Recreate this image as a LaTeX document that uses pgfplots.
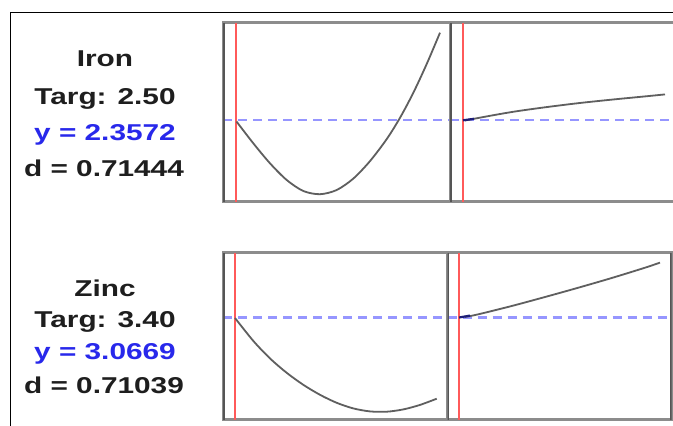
\documentclass[border=0pt]{standalone}
\usepackage{pgfplots}
\pgfplotsset{compat=1.18}
\usepackage{fontspec}
\setmainfont{Liberation Sans}
\definecolor{curvegray}{RGB}{95,95,95}
\definecolor{framegray}{RGB}{140,140,140}
\definecolor{framedark}{RGB}{85,85,85}
\definecolor{reflblue}{RGB}{150,150,255}
\definecolor{redline}{RGB}{255,90,90}
\definecolor{txtblue}{RGB}{40,40,235}
\definecolor{txtdark}{RGB}{30,30,30}
\definecolor{navymark}{RGB}{30,30,120}
\pgfplotsset{
  panel/.style={
    scale only axis, anchor=north west,
    xtick=\empty, ytick=\empty, y dir=reverse,
    axis line style={draw=framegray, line width=3bp},
    clip=true,
  },
  crv/.style={draw=curvegray, line width=1.8bp, smooth, mark=none},
  ref/.style={draw=reflblue, line width=2.8bp, dash pattern=on 9bp off 6bp, mark=none},
  red/.style={draw=redline, line width=2bp, mark=none},
  cur/.style={draw=navymark, line width=2.2bp, mark=none},
}
\begin{document}
\begin{tikzpicture}
\useasboundingbox[fill=white] (0,0) rectangle (673bp,-426bp);
% outer frame
\draw[black, line width=1.6bp] (10.5bp,-426bp) -- (10.5bp,-12.5bp) -- (673bp,-12.5bp);
% ---------- Iron, left
\begin{axis}[panel, at={(223bp,-22.5bp)}, width=227bp, height=179bp,
  xmin=223, xmax=450, ymin=22.5, ymax=201.5]
\addplot[ref] coordinates {(223,120) (450,120)};
\addplot[red] coordinates {(236,22.5) (236,201.5)};
\addplot[crv] coordinates {(236.5,121.5) (253.3,143.3) (270,163.3) (286.7,180) (303.3,191) (320,194.2) (336.7,190) (353.3,178.6) (370,161.1) (386.7,139.1) (400,117.8) (413.3,92.8) (426.7,64) (440,32.7)};
\draw[framedark, line width=4bp] (rel axis cs:0,0) -- (rel axis cs:0,1);
\draw[framedark, line width=3bp] (rel axis cs:1,0) -- (rel axis cs:1,1);
\end{axis}
% ---------- Iron, right
\begin{axis}[panel, at={(450bp,-22.5bp)}, width=250bp, height=179bp,
  xmin=450, xmax=700, ymin=22.5, ymax=201.5]
\addplot[ref] coordinates {(450,120) (700,120)};
\addplot[red] coordinates {(463,22.5) (463,201.5)};
\addplot[crv] coordinates {(465,120.5) (490,115.8) (515,111.5) (545,107.3) (578,103.2) (612,99.6) (645,96.4) (665,94.4)};
\addplot[cur] coordinates {(463,120.3) (474,118.8)};
\draw[framedark, line width=3bp] (rel axis cs:0,0) -- (rel axis cs:0,1);
\end{axis}
% ---------- Zinc, left
\begin{axis}[panel, at={(223bp,-252.5bp)}, width=224.5bp, height=167bp,
  xmin=223, xmax=447.5, ymin=252.5, ymax=419.5]
\addplot[ref] coordinates {(223,317.5) (447.5,317.5)};
\addplot[red] coordinates {(234.5,252.5) (234.5,419.5)};
\addplot[crv] coordinates {(235,318) (253.3,340.9) (270,358.4) (286.7,372.8) (303.3,384.8) (320,394.8) (336.7,402.8) (353.3,408.4) (370,411.4) (386.7,411.7) (403.3,409.4) (420,404.9) (436.7,398.7)};
\draw[framedark, line width=4bp] (rel axis cs:0,0) -- (rel axis cs:0,1);
\draw[framedark, line width=3bp] (rel axis cs:1,0) -- (rel axis cs:1,1);
\end{axis}
% ---------- Zinc, right
\begin{axis}[panel, at={(447.5bp,-252.5bp)}, width=224bp, height=167bp,
  xmin=447.5, xmax=671.5, ymin=252.5, ymax=419.5]
\addplot[ref] coordinates {(447.5,317.5) (671.5,317.5)};
\addplot[red] coordinates {(459,252.5) (459,419.5)};
\addplot[crv] coordinates {(465,317) (478.3,314.3) (511.7,306) (545,297) (578.3,287.7) (611.7,278) (645,267.7) (660,262.6)};
\addplot[cur] coordinates {(459,317.5) (470,315.6)};
\draw[framedark, line width=3bp] (rel axis cs:0,0) -- (rel axis cs:0,1);
\draw[framedark, line width=3bp] (rel axis cs:1,0) -- (rel axis cs:1,1);
\end{axis}
% ---------- labels
\tikzset{lab/.style={anchor=base, xscale=1.3, inner sep=0pt,
  font=\fontsize{23}{23}\selectfont\bfseries}}
\node[lab, txtdark] at (105bp,-66.7bp) {Iron};
\node[lab, txtdark] at (105bp,-104bp) {Targ: 2.50};
\node[lab, txtblue] at (105bp,-140bp) {y = 2.3572};
\node[lab, txtdark] at (104bp,-176.7bp) {d = 0.71444};
\node[lab, txtdark] at (105bp,-296bp) {Zinc};
\node[lab, txtdark] at (105bp,-327.7bp) {Targ: 3.40};
\node[lab, txtblue] at (105bp,-359.3bp) {y = 3.0669};
\node[lab, txtdark] at (104bp,-393.3bp) {d = 0.71039};
\end{tikzpicture}
\end{document}
